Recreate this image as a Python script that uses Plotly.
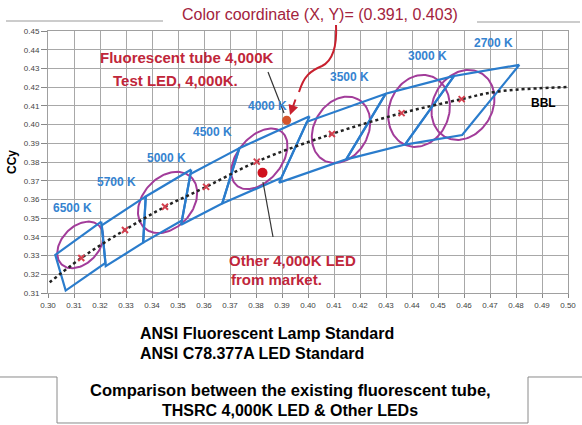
import numpy as np
import plotly.graph_objects as go

# ---------------- data ----------------
cct_labels = ["6500 K", "5700 K", "5000 K", "4500 K", "4000 K", "3500 K", "3000 K", "2700 K"]

# ANSI C78.377A quadrangle corners (x, y) for each CCT
quad_x = [
    [0.3205, 0.3028, 0.3068, 0.3221],
    [0.3376, 0.3207, 0.3222, 0.3366],
    [0.3551, 0.3376, 0.3366, 0.3515],
    [0.3736, 0.3548, 0.3512, 0.3670],
    [0.4006, 0.3736, 0.3670, 0.3898],
    [0.4299, 0.3996, 0.3889, 0.4147],
    [0.4562, 0.4299, 0.4147, 0.4373],
    [0.4813, 0.4562, 0.4373, 0.4593],
]
quad_y = [
    [0.3481, 0.3304, 0.3113, 0.3261],
    [0.3616, 0.3462, 0.3243, 0.3369],
    [0.3760, 0.3616, 0.3369, 0.3487],
    [0.3874, 0.3736, 0.3465, 0.3578],
    [0.4044, 0.3874, 0.3578, 0.3716],
    [0.4165, 0.4015, 0.3690, 0.3814],
    [0.4260, 0.4165, 0.3814, 0.3893],
    [0.4319, 0.4260, 0.3893, 0.3944],
]

# ANSI fluorescent lamp tolerance ellipses: centre (x, y), semi axes (display px) and tilt (deg)
ell_names = ["6500 K", "5000 K", "4000 K", "3500 K", "3000 K", "2700 K"]
ell_cx = [0.3124, 0.3460, 0.3813, 0.4127, 0.4427, 0.4596]
ell_cy = [0.3357, 0.3584, 0.3817, 0.3972, 0.4073, 0.4105]
ell_a = [27.0, 34.5, 35.0, 35.0, 36.7, 36.6]
ell_b = [18.5, 25.0, 22.0, 27.0, 30.0, 29.6]
ell_tilt = [46, 48, 50, 60, 70, 60]

# black body locus
bbl_x = [0.2970, 0.3128, 0.3296, 0.3450, 0.3608, 0.3803, 0.4092, 0.4360, 0.4591, 0.4726, 0.5020]
bbl_y = [0.3116, 0.3287, 0.3437, 0.3561, 0.3667, 0.3802, 0.3950, 0.4061, 0.4136, 0.4176, 0.4202]

# nominal CCT points on the locus
nom_x = [0.3128, 0.3296, 0.3450, 0.3608, 0.3803, 0.4092, 0.4360, 0.4591]
nom_y = [0.3287, 0.3437, 0.3561, 0.3667, 0.3802, 0.3950, 0.4061, 0.4136]

# measured points
test_led = (0.3918, 0.4023)
other_led = (0.3825, 0.3743)

x_range = [0.30, 0.50]
y_range = [0.31, 0.45]

# ---------------- layout geometry ----------------
W, H = 582, 425
ML, MR, MT, MB = 48, 14, 31, 132
PW, PH = W - ML - MR, H - MT - MB
ppx = PW / (x_range[1] - x_range[0])
ppy = PH / (y_range[1] - y_range[0])


def pp(px, py):
    """pixel position in the page -> paper coordinates"""
    return (px - ML) / PW, (H - MB - py) / PH


FONT = "Liberation Sans, Arial, sans-serif"
BLUE = "#2a7ccc"
MAGENTA = "#a23c9a"
RED = "#c0263a"

fig = go.Figure()

# ellipses
t = np.linspace(0, 2 * np.pi, 121)
for cx, cy, a, b, ang in zip(ell_cx, ell_cy, ell_a, ell_b, ell_tilt):
    ph = np.radians(ang)
    dx = a * np.cos(t) * np.cos(ph) - b * np.sin(t) * np.sin(ph)
    dy = a * np.cos(t) * np.sin(ph) + b * np.sin(t) * np.cos(ph)
    fig.add_trace(go.Scatter(x=cx + dx / ppx, y=cy + dy / ppy, mode="lines",
                             line=dict(color=MAGENTA, width=2), hoverinfo="skip",
                             showlegend=False))

# quadrangles
for qx, qy in zip(quad_x, quad_y):
    fig.add_trace(go.Scatter(x=qx + [qx[0]], y=qy + [qy[0]], mode="lines",
                             line=dict(color=BLUE, width=2.2), hoverinfo="skip",
                             showlegend=False))

# BBL
fig.add_trace(go.Scatter(x=bbl_x, y=bbl_y, mode="lines",
                         line=dict(color="#222222", width=2.5, dash="dot", shape="spline"),
                         showlegend=False))
fig.add_trace(go.Scatter(x=nom_x, y=nom_y, mode="markers",
                         marker=dict(symbol="x-thin", size=6, line=dict(color="#d4404f", width=2)),
                         showlegend=False))

# measured points
fig.add_trace(go.Scatter(x=[test_led[0]], y=[test_led[1]], mode="markers",
                         marker=dict(color="#d5552c", size=9), showlegend=False))
fig.add_trace(go.Scatter(x=[other_led[0]], y=[other_led[1]], mode="markers",
                         marker=dict(color="#d0101e", size=10), showlegend=False))

ann = []


def text(s, px, py, size=12, color="black", bold=False, xanchor="center", angle=0):
    x, y = pp(px, py)
    ann.append(dict(text=("<b>%s</b>" % s) if bold else s, x=x, y=y, xref="paper", yref="paper",
                    xanchor=xanchor, yanchor="middle", showarrow=False, textangle=angle,
                    font=dict(family=FONT, size=size, color=color)))


text("Color coordinate (X, Y)= (0.391, 0.403)", 320, 14.5, size=16, color="#a3233d")
text("Fluorescent tube 4,000K", 187, 57, size=15, color=RED, bold=True)
text("Test LED, 4,000K.", 175, 80, size=15, color=RED, bold=True)
text("Other 4,000K LED", 227, 260, size=15, color=RED, bold=True, xanchor="left")
text("from market.", 229, 279, size=15, color=RED, bold=True, xanchor="left")

label_pos = [(72.5, 208), (116, 182), (166, 158), (212.5, 132), (267, 106), (349, 77), (427, 56), (493, 43)]
for lab, (px, py) in zip(cct_labels, label_pos):
    text(lab, px, py, size=12, color="#3583d0", bold=True)

text("BBL", 543, 103, size=12, bold=True)
text("CCy", 12, 162, size=12, bold=True, angle=-90)

text("ANSI Fluorescent Lamp Standard", 138, 333, size=16, bold=True, xanchor="left")
text("ANSI C78.377A LED Standard", 138, 353, size=16, bold=True, xanchor="left")
text("Comparison between the existing fluorescent tube,", 290, 390, size=16.5, bold=True)
text("THSRC 4,000K LED &amp; Other LEDs", 290, 410, size=16, bold=True)

# red arrow head
tx, ty = pp(290, 115)
ann.append(dict(x=tx, y=ty, xref="paper", yref="paper", ax=6, ay=-17, text="",
                showarrow=True, arrowhead=2, arrowsize=1, arrowwidth=2, arrowcolor="#c8202e"))

shapes = []


def line(p1, p2, color="#999999", width=1):
    x0, y0 = pp(*p1)
    x1, y1 = pp(*p2)
    shapes.append(dict(type="line", xref="paper", yref="paper", x0=x0, y0=y0, x1=x1, y1=y1,
                       line=dict(color=color, width=width)))


def path(points, cmd, color, width):
    parts = []
    for c, pts in zip(cmd, points):
        coords = " ".join("%.5f,%.5f" % pp(*p) for p in pts)
        parts.append(c + " " + coords)
    shapes.append(dict(type="path", xref="paper", yref="paper", path=" ".join(parts),
                       line=dict(color=color, width=width)))


# top rule broken by title
line((6, 21), (163, 21))
line((477, 22), (580, 22))
# leader lines
line((268, 72), (284, 113), color="#333333", width=1.2)
line((263, 182), (273, 237), color="#333333", width=1.2)
# curved red arrow
path([[(336, 25)], [(337, 45), (334, 60), (322, 66)], [(310, 71), (304, 76), (299, 92)]],
     ["M", "C", "C"], "#c8202e", 2)
# bottom bracket
path([[(0, 377)], [(57, 377)], [(57, 423)], [(528, 423)], [(528, 377)], [(582, 377)]],
     ["M", "L", "L", "L", "L", "L"], "#8a8a8a", 1)

axis_common = dict(showgrid=True, gridcolor="#a8a8a8", gridwidth=1, zeroline=False,
                   showline=True, linecolor="#a0a0a0", mirror=True, ticks="outside",
                   tickcolor="#888888", tickformat=".2f", dtick=0.01, automargin=False,
                   tickfont=dict(family=FONT, size=8, color="#444444"))

fig.update_layout(
    width=W, height=H, margin=dict(l=ML, r=MR, t=MT, b=MB, autoexpand=False),
    paper_bgcolor="white", plot_bgcolor="white",
    xaxis=dict(range=x_range, tick0=0.30, ticklen=4, **axis_common),
    yaxis=dict(range=y_range, tick0=0.31, ticklen=6, **axis_common),
    annotations=ann, shapes=shapes, showlegend=False,
)

fig.write_html("out.html", config={"displayModeBar": False},
               post_script="document.body.style.margin='0';document.body.style.padding='0';")
